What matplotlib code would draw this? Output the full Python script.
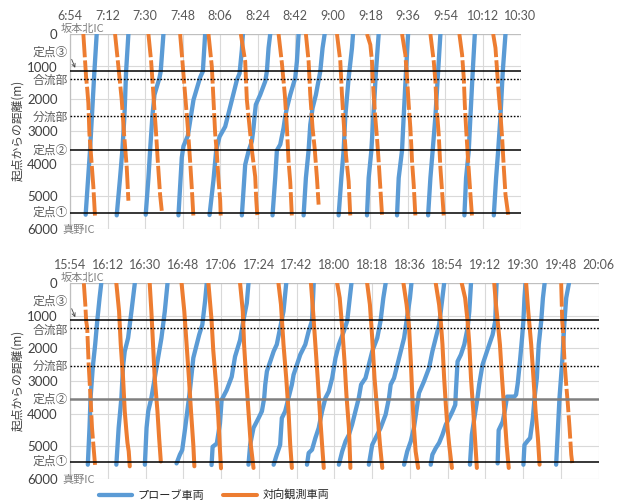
import matplotlib
matplotlib.use('Agg')
import matplotlib.pyplot as plt

plt.rcParams['font.family'] = ['Lato', 'Noto Sans CJK JP', 'DejaVu Sans']

# ---------------- data ----------------
AM_TICK_LABELS = ['6:54', '7:12', '7:30', '7:48', '8:06', '8:24', '8:42', '9:00',
                  '9:18', '9:36', '9:54', '10:12', '10:30']
PM_TICK_LABELS = ['15:54', '16:12', '16:30', '16:48', '17:06', '17:24', '17:42', '18:00',
                  '18:18', '18:36', '18:54', '19:12', '19:30', '19:48', '20:06']
Y_TICKS = [0, 1000, 2000, 3000, 4000, 5000, 6000]

# reference points along the road (m from 坂本北IC)
REF_NAMES = ['定点③', '合流部', '分流部', '定点②', '定点①']
REF_DIST = [1140, 1375, 2525, 3560, 5495]

# trajectories: (minutes after first tick, distance m)
AM_PROBE = [
    ([7.5, 9.6, 11.7, 12.8], [5560, 3580, 1150, 0]),
    ([22.4, 24.0, 25.1, 26.1, 26.9, 28.0], [5580, 4430, 3580, 2530, 1150, 0]),
    ([36.3, 37.6, 38.4, 39.5, 40.5, 42.9, 43.5, 44.8], [5560, 4430, 3580, 2530, 1870, 1350, 1150, 0]),
    ([52.0, 53.6, 54.4, 56.5, 59.2, 62.4, 63.7, 64.8], [5580, 3800, 3450, 3130, 2030, 1335, 1150, 0]),
    ([66.9, 68.8, 70.1, 71.7, 74.4, 76.8, 80.0, 81.3, 82.4, 82.9],
     [5570, 4490, 3570, 3160, 2850, 2240, 1420, 1210, 490, 0]),
    ([82.4, 84.0, 85.6, 87.2, 88.0, 88.5, 89.1, 91.2, 93.6, 94.4, 95.2, 96.0],
     [5580, 4020, 3610, 3300, 2890, 2530, 2175, 1870, 1460, 1150, 430, 0]),
    ([97.1, 98.4, 99.2, 100.8, 102.4, 103.2, 104.0, 105.6, 108.0, 108.8, 109.6],
     [5580, 4430, 3580, 3400, 2890, 2530, 2280, 1870, 1350, 840, 0]),
    ([112.0, 113.1, 114.4, 115.2, 116.3, 117.9, 120.0, 121.1, 122.1],
     [5580, 4430, 3580, 2790, 2280, 1870, 1150, 430, 0]),
    ([128.8, 130.1, 131.2, 132.0, 133.6, 135.2, 135.7], [5580, 4430, 3580, 2530, 1350, 430, 0]),
    ([142.4, 143.2, 144.5, 145.6, 146.7, 148.0], [5580, 4430, 3580, 2380, 1150, 0]),
    ([156.8, 157.6, 159.2, 160.0, 161.1, 162.1], [5580, 4430, 3580, 2530, 1150, 0]),
    ([171.7, 172.8, 173.9, 175.2, 176.5, 177.6], [5580, 4430, 3580, 2530, 1150, 0]),
    ([189.1, 189.9, 191.2, 192.0, 193.1, 194.1], [5580, 4430, 3580, 2530, 1150, 0]),
    ([203.2, 204.3, 205.3, 206.4, 207.5, 208.8], [5580, 4430, 3580, 2530, 1150, 0]),
]
AM_ONCOMING = [
    ([6.4, 7.7, 8.3, 8.8, 9.3, 9.9, 11.2, 12.0], [0, 1310, 1720, 2130, 3060, 3570, 4700, 5620]),
    ([21.6, 23.2, 24.8, 25.9, 27.2, 28.0], [0, 1000, 2030, 3060, 4100, 5130]),
    ([37.6, 38.9, 40.0, 41.1, 42.1, 43.2, 44.0], [0, 840, 1870, 2890, 3920, 4950, 5440]),
    ([52.8, 53.9, 55.2, 56.5, 57.6, 58.4, 59.2], [0, 840, 1870, 2890, 3920, 4740, 5660]),
    ([66.4, 68.0, 68.8, 69.6, 70.4, 71.2, 72.0, 72.3], [0, 1000, 2030, 3060, 3670, 4490, 5110, 5670]),
    ([81.9, 84.0, 84.8, 86.4, 87.2, 88.8, 89.3, 89.9], [0, 840, 2030, 3060, 3570, 4390, 5110, 5670]),
    ([100.0, 101.6, 103.0, 104.0, 104.8, 105.6, 106.4], [0, 900, 1870, 2890, 3920, 4550, 5640]),
    ([113.1, 114.4, 115.2, 116.3, 117.3, 118.4, 119.2], [0, 840, 1870, 2890, 3510, 4430, 5250]),
    ([128.0, 129.6, 130.4, 131.2, 132.3, 133.6, 134.4], [0, 840, 1870, 2690, 3710, 4535, 5610]),
    ([142.4, 144.0, 144.8, 145.1, 145.6, 146.4, 147.2, 148.0, 148.8, 149.6],
     [0, 330, 840, 1350, 1870, 2590, 3200, 3920, 4740, 5560]),
    ([159.2, 160.8, 161.6, 162.4, 163.2, 163.7, 164.0, 164.8, 165.6],
     [0, 640, 1350, 2175, 2890, 3510, 3920, 4640, 5610]),
    ([172.8, 174.4, 175.2, 175.7, 176.8, 177.6, 178.4, 179.2], [0, 840, 1460, 2175, 3100, 4125, 4840, 5610]),
    ([186.7, 188.0, 188.8, 189.3, 189.9, 190.9, 192.0, 192.8], [0, 640, 1350, 2175, 2890, 3920, 4945, 5660]),
    ([202.9, 204.0, 204.8, 205.6, 206.4, 207.2, 208.0, 208.8, 210.1],
     [0, 430, 1150, 1870, 2480, 3200, 4125, 4945, 5560]),
]
PM_PROBE = [
    ([8.5, 9.3, 9.8, 10.9, 12.0, 13.0, 14.1, 14.9], [5570, 4440, 3520, 2550, 1880, 1150, 450, 0]),
    ([22.1, 23.2, 24.5, 25.3, 26.1, 27.7, 29.3, 30.9], [5570, 4440, 3520, 2550, 2090, 1680, 860, 0]),
    ([35.7, 36.5, 37.3, 38.8, 40.4, 42.0, 43.6, 45.2, 46.5],
     [5570, 4440, 3930, 3520, 2910, 2290, 1680, 860, 0]),
    ([50.8, 52.4, 53.5, 54.8, 57.2, 58.8, 61.6, 63.1, 64.4, 65.2],
     [5530, 5260, 5120, 4500, 3280, 2290, 1580, 1270, 550, 0]),
    ([67.5, 68.0, 70.0, 71.5, 72.3, 74.7, 77.1, 78.7, 81.1, 82.7, 84.3, 85.1],
     [5580, 5020, 4920, 4300, 3580, 3280, 2870, 2250, 1740, 1130, 610, 0]),
    ([85.1, 85.9, 87.5, 89.9, 91.5, 92.6, 93.1, 93.9, 95.5, 97.1, 98.6, 100.2, 101.8, 103.1],
     [5570, 4960, 4440, 4140, 3930, 3520, 3110, 2700, 2400, 2090, 1880, 1370, 860, 0]),
    ([97.1, 98.6, 100.2, 101.0, 102.6, 104.2, 105.8, 106.6, 108.2, 109.8, 112.2, 113.8, 115.4, 115.9, 116.2],
     [5570, 5260, 4960, 4140, 3930, 3520, 3110, 2810, 2500, 2190, 1880, 1470, 1150, 450, 0]),
    ([113.0, 113.8, 115.4, 117.0, 118.6, 120.2, 121.8, 123.4, 125.0, 126.6, 128.2, 130.6, 132.2, 133.4, 134.2],
     [5570, 5210, 5110, 4750, 4440, 3930, 3520, 3320, 2910, 2290, 1880, 1470, 1150, 450, 0]),
    ([128.2, 129.8, 131.4, 133.0, 134.5, 136.1, 137.7, 138.8, 140.9, 142.5, 144.1, 146.5, 148.1, 149.4, 150.5],
     [5570, 5160, 4850, 4650, 4340, 3930, 3520, 3110, 2910, 2500, 2090, 1680, 1150, 450, 0]),
    ([142.5, 144.1, 146.5, 148.1, 150.5, 152.1, 152.9, 154.5, 156.1, 157.7, 159.3, 160.5, 162.1, 162.8],
     [5570, 4960, 4650, 4440, 4030, 3520, 3110, 2910, 2500, 2090, 1680, 1150, 450, 0]),
    ([159.3, 160.8, 162.5, 164.0, 165.6, 166.4, 168.8, 171.2, 172.8, 174.4, 176.0, 176.8, 178.4],
     [5570, 5160, 4850, 4440, 3730, 3370, 3010, 2600, 2090, 1680, 1270, 860, 0]),
    ([172.0, 172.8, 174.4, 176.0, 177.6, 179.2, 180.8, 182.4, 183.7, 184.0, 184.8, 186.4, 188.0, 189.6, 190.4, 191.2],
     [5570, 5260, 5060, 4900, 4650, 4340, 4140, 3930, 3730, 3320, 2400, 2190, 1880, 1370, 860, 0]),
    ([190.7, 191.6, 192.8, 194.3, 195.1, 196.7, 198.3, 199.9, 201.5, 202.8, 203.1, 203.4],
     [5570, 4650, 4140, 3520, 3110, 2500, 2190, 1880, 1580, 1150, 450, 0]),
    ([203.9, 204.4, 206.3, 207.4, 208.4, 211.9, 212.7, 213.5, 214.6, 215.6, 216.2, 216.7, 217.2],
     [5530, 4510, 4250, 3890, 3480, 3480, 3420, 3070, 2360, 1640, 1150, 450, 0]),
    ([216.2, 216.7, 218.3, 219.4, 220.7, 221.5, 222.6, 223.5, 224.7, 225.5, 226.3],
     [5570, 4960, 4830, 4750, 4140, 3520, 2910, 1880, 1150, 450, 0]),
    ([231.8, 232.6, 233.4, 234.7, 235.8, 236.6, 237.9], [5570, 4550, 3520, 2400, 1150, 450, 0]),
]
PM_ONCOMING = [
    ([6.6, 7.3, 7.7, 8.2, 8.9, 9.8, 10.5, 11.4, 12.0], [0, 655, 1150, 1370, 2500, 3520, 4440, 5160, 5620]),
    ([22.1, 23.4, 24.2, 25.3, 26.1, 26.9, 27.4, 28.0, 28.5], [0, 860, 1880, 2910, 3930, 4550, 4900, 5160, 5620]),
    ([38.0, 38.8, 39.6, 40.4, 41.7, 42.5, 43.3], [0, 860, 1880, 2910, 3930, 4750, 5470]),
    ([53.2, 54.5, 55.6, 56.7, 57.7, 58.8, 59.3], [0, 860, 1880, 2910, 3930, 4960, 5620]),
    ([66.0, 67.5, 68.3, 69.6, 70.7, 71.5, 72.0], [0, 1130, 2050, 3070, 4100, 5120, 5680]),
    ([81.1, 82.4, 83.0, 84.0, 85.1, 86.2, 87.5], [0, 860, 1880, 2910, 3930, 4960, 5670]),
    ([99.4, 100.6, 101.8, 103.1, 104.2, 105.0, 105.8], [0, 655, 1880, 2910, 3930, 4960, 5670]),
    ([114.9, 115.9, 117.0, 118.1, 119.1, 120.2, 121.0], [0, 860, 1880, 2910, 3930, 4960, 5670]),
    ([127.4, 128.6, 129.8, 130.9, 131.8, 133.0, 133.7], [0, 450, 1370, 2400, 3420, 4440, 5670]),
    ([141.7, 143.0, 144.1, 145.2, 146.5, 147.8, 148.9], [0, 655, 1680, 2910, 3930, 4960, 5670]),
    ([159.0, 160.5, 161.7, 162.5, 163.2, 164.0, 164.8, 166.0], [0, 655, 1370, 2400, 3420, 4440, 5160, 5670]),
    ([174.4, 176.0, 176.8, 177.6, 178.4, 179.2, 180.0, 180.8, 182.1],
     [0, 655, 1170, 1880, 2910, 3730, 4440, 4960, 5670]),
    ([186.8, 188.4, 189.6, 190.4, 191.2, 192.3, 193.3, 194.0], [0, 450, 1170, 1880, 2910, 3930, 4960, 5670]),
    ([202.3, 203.1, 203.9, 205.0, 206.0, 207.1, 208.2, 209.2], [0, 655, 1150, 1880, 2910, 3930, 4960, 5670]),
    ([217.5, 218.5, 219.9, 221.0, 222.0, 223.1, 223.9], [0, 860, 1880, 2910, 3930, 4750, 5570]),
    ([234.2, 234.7, 235.0, 235.8, 236.6, 237.4, 238.2, 239.0, 239.5],
     [0, 1170, 1370, 2400, 3110, 3730, 4440, 5260, 5520]),
]

# ---------------- style ----------------
BLUE = '#5B9BD5'
ORANGE = '#ED7D31'
GRID = '#D9D9D9'
TXT = '#595959'
W, H = 625, 503
TICK_STEP = 18

fig = plt.figure(figsize=(W / 100, H / 100), dpi=100)
ax1 = fig.add_axes([70 / W, 1 - 229 / H, 450.5 / W, 195 / H])
ax2 = fig.add_axes([70 / W, 1 - 478.7 / H, 528.5 / W, 195.4 / H])


def draw(ax, probes, oncoming, tick_labels, width_px, pm):
    xmax = TICK_STEP * (len(tick_labels) - 1)
    handles = []
    for t, d in probes:
        h, = ax.plot(t, d, color=BLUE, lw=3.1, solid_capstyle='round', zorder=3)
    handles.append(h)
    for i, (t, d) in enumerate(oncoming):
        dashed = (not pm) or i in (0, len(oncoming) - 1)
        if dashed:
            ax.plot(t, d, color=ORANGE, lw=2.8, dashes=(6, 0.8), zorder=4)
        else:
            h2, = ax.plot(t, d, color=ORANGE, lw=2.9, solid_capstyle='round', zorder=4)
    if pm:
        handles.append(h2)
    ax.set_xlim(0, xmax)
    ax.set_ylim(6000, 0)
    ax.set_xticks([TICK_STEP * i for i in range(len(tick_labels))])
    ax.set_xticklabels(tick_labels)
    ax.set_yticks(Y_TICKS)
    ax.xaxis.tick_top()
    ax.tick_params(axis='x', length=0, pad=9, labelsize=9, labelcolor=TXT)
    ax.tick_params(axis='y', length=0, pad=9, labelsize=9.5, labelcolor='#404040')
    ax.grid(True, color=GRID, lw=0.8, zorder=0)
    ax.set_axisbelow(True)
    for s in ['right', 'bottom', 'top']:
        ax.spines[s].set_visible(False)
    ax.spines['left'].set_color('#BFBFBF')
    ax.spines['left'].set_linewidth(0.9)
    ax.axhline(0, color='#BFBFBF', lw=0.9, zorder=1)

    for name, dist in zip(REF_NAMES, REF_DIST):
        if name in ('合流部', '分流部'):
            ax.axhline(dist, color='black', lw=1.0, ls=(0, (1.2, 1.2)), zorder=5)
        elif name == '定点②' and pm:
            ax.axhline(dist, color='#7F7F7F', lw=1.8, zorder=5)
        else:
            ax.axhline(dist, color='black', lw=1.1, zorder=5)

    tr = ax.get_yaxis_transform()
    off = -2 / width_px
    label_y = {'定点③': 560, '合流部': 1440, '分流部': 2555, '定点②': 3560, '定点①': 5470}
    for name in REF_NAMES:
        ax.text(off, label_y[name], name, transform=tr, ha='right', va='center',
                fontsize=8.5, color=TXT, family=['Noto Sans CJK JP', 'DejaVu Sans'], zorder=6)
    ax.annotate('', xy=(3.0, 1120), xytext=(0.3, 700),
                arrowprops=dict(arrowstyle='->', color='#404040', lw=0.6,
                                mutation_scale=6),
                annotation_clip=False)
    ax.text(-9 / width_px, -150, '坂本北IC', transform=tr, ha='left', va='center',
            fontsize=8, color='#7F7F7F', family=['Noto Sans CJK JP', 'DejaVu Sans'])
    ax.text(-8 / width_px, 6030, '真野IC', transform=tr, ha='left', va='center',
            fontsize=8, color='#7F7F7F', family=['Noto Sans CJK JP', 'DejaVu Sans'])
    return handles


draw(ax1, AM_PROBE, AM_ONCOMING, AM_TICK_LABELS, 450.5, False)
hs = draw(ax2, PM_PROBE, PM_ONCOMING, PM_TICK_LABELS, 528.5, True)

for yc in (130, 380):
    fig.text(18 / W, 1 - yc / H, '起点からの距離(m)', rotation=90, ha='center', va='center',
             fontsize=8.5, color='#404040', family=['Noto Sans CJK JP', 'DejaVu Sans'])

leg = fig.legend(hs, ['プローブ車両', '対向観測車両'], loc='center',
                 bbox_to_anchor=(214 / W, 1 - 495 / H), ncol=2, frameon=False,
                 handlelength=3.0, columnspacing=1.7, handletextpad=0.5,
                 prop={'family': ['Noto Sans CJK JP', 'DejaVu Sans'], 'size': 8})
for t in leg.get_texts():
    t.set_color('#262626')

fig.savefig('out.png', dpi=100)
